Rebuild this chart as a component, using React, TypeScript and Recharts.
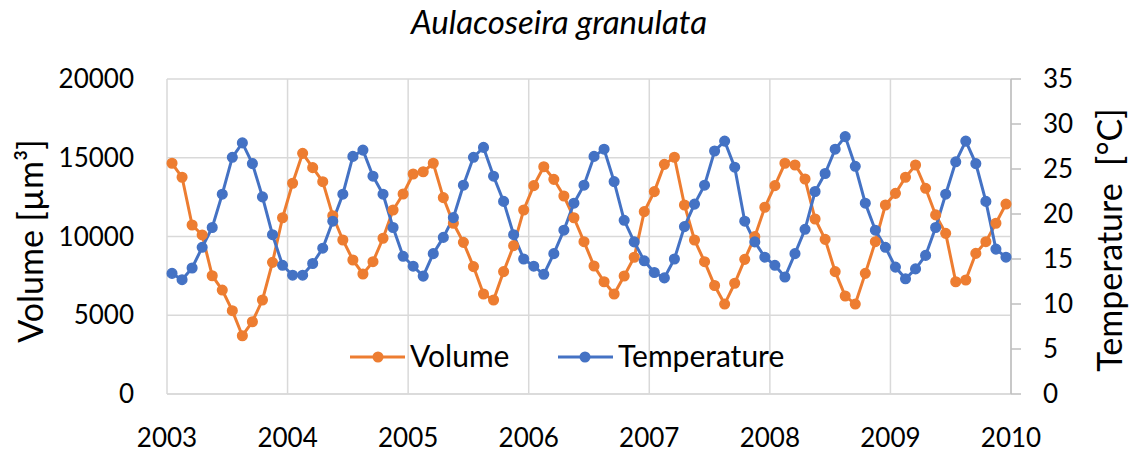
import React from "react";
import { LineChart, Line, XAxis, YAxis, CartesianGrid } from "recharts";

// monthly samples, Jan 2003 .. Dec 2009
const YEARS = [2003, 2004, 2005, 2006, 2007, 2008, 2009, 2010];
const VOLUME_TICKS = [0, 5000, 10000, 15000, 20000];
const TEMP_TICKS = [0, 5, 10, 15, 20, 25, 30, 35];

const VOLUME = [
  14650, 13760, 10730, 10100, 7510, 6600, 5290, 3700, 4590, 5970, 8360, 11190,
  13380, 15280, 14370, 13480, 11320, 9780, 8510, 7620, 8400, 9890, 11680, 12700,
  13970, 14110, 14650, 12470, 10840, 9630, 8090, 6350, 5970, 7770, 9420, 11680,
  13230, 14430, 13630, 12570, 11190, 9670, 8130, 7130, 6350, 7490, 8680, 11580,
  12850, 14580, 15030, 12000, 9780, 8400, 6890, 5710, 7030, 8550, 9990, 11860,
  13230, 14650, 14540, 13650, 11110, 9820, 7770, 6220, 5710, 7660, 9670, 12000,
  12740, 13760, 14540, 13060, 11370, 10200, 7130, 7240, 8930, 9670, 10840, 12060,
];

const TEMPERATURE = [
  13.4, 12.7, 14.0, 16.3, 18.5, 22.2, 26.3, 27.9, 25.6, 21.9, 17.7, 14.3,
  13.2, 13.2, 14.5, 16.2, 19.2, 22.2, 26.4, 27.1, 24.2, 22.2, 18.5, 15.3,
  14.2, 13.1, 15.6, 17.4, 19.6, 23.2, 26.3, 27.4, 24.2, 21.4, 17.7, 15.0,
  14.2, 13.3, 15.6, 18.2, 21.2, 23.2, 26.4, 27.2, 23.6, 19.3, 16.9, 14.8,
  13.5, 12.9, 15.0, 18.6, 21.1, 23.2, 27.0, 28.1, 25.2, 19.2, 16.9, 15.2,
  14.3, 13.0, 15.6, 18.3, 22.5, 24.5, 27.2, 28.6, 25.3, 21.2, 18.2, 16.3,
  14.1, 12.8, 13.9, 15.4, 18.5, 22.2, 25.8, 28.1, 25.6, 21.4, 16.1, 15.2,
];

const ORANGE = "#ED7D31";
const BLUE = "#4472C4";
const FONT = "Lato, 'Open Sans', sans-serif";

const rows = VOLUME.map((v, i) => ({
  t: YEARS[0] + (i + 0.5) / 12,
  volume: v,
  temperature: TEMPERATURE[i],
}));

const XTick = (props: any) => (
  <text x={props.x} y={447} textAnchor="middle" fontSize={26} fill="#000" fontFamily={FONT}>
    {props.payload.value}
  </text>
);

const LeftTick = (props: any) => (
  <text x={134} y={props.y + 9} textAnchor="end" fontSize={26} fill="#000" fontFamily={FONT}>
    {props.payload.value}
  </text>
);

const RightTick = (props: any) => (
  <text x={1043} y={props.y + 9} textAnchor="start" fontSize={26} fill="#000" fontFamily={FONT}>
    {props.payload.value}
  </text>
);

export default function App() {
  return (
    <div style={{ position: "absolute", left: 0, top: 0, width: 1134, height: 462, background: "#fff", fontFamily: FONT }}>
      <svg width={1134} height={60} style={{ position: "absolute", left: 0, top: 0 }}>
        <text x={559} y={34} textAnchor="middle" fontSize={33} fontStyle="italic" fontFamily={FONT} fill="#000">
          Aulacoseira granulata
        </text>
      </svg>
      <LineChart width={1134} height={462} data={rows} margin={{ top: 79, right: 0, bottom: 0, left: 0 }}>
        <CartesianGrid yAxisId="left" stroke="#D9D9D9" strokeWidth={1.5} />
        <XAxis
          dataKey="t"
          type="number"
          domain={[2003, 2010]}
          ticks={YEARS}
          height={68}
          tickLine={false}
          axisLine={{ stroke: "#D9D9D9", strokeWidth: 1.5 }}
          tick={XTick}
        />
        <YAxis
          yAxisId="left"
          domain={[0, 20000]}
          ticks={VOLUME_TICKS}
          width={167}
          axisLine={false}
          tickLine={false}
          tick={LeftTick}
          label={{
            content: () => (
              <text
                x={29}
                y={241}
                transform="rotate(-90 29 241)"
                textAnchor="middle"
                dominantBaseline="central"
                fontSize={34}
                fontFamily={FONT}
                fill="#000"
              >
                Volume [µm³]
              </text>
            ),
          }}
        />
        <YAxis
          yAxisId="right"
          orientation="right"
          domain={[0, 35]}
          ticks={TEMP_TICKS}
          width={123}
          axisLine={{ stroke: "#BFBFBF", strokeWidth: 1.5 }}
          tickLine={{ stroke: "#BFBFBF", strokeWidth: 1.5 }}
          tickSize={10}
          tick={RightTick}
          label={{
            content: () => (
              <text
                x={1108}
                y={240}
                transform="rotate(-90 1108 240)"
                textAnchor="middle"
                dominantBaseline="central"
                fontSize={34}
                fontFamily={FONT}
                fill="#000"
                style={{ whiteSpace: "pre" }}
              >
                {"Temperature  [°C]"}
              </text>
            ),
          }}
        />
        <Line
          yAxisId="left"
          type="linear"
          dataKey="volume"
          name="Volume"
          stroke={ORANGE}
          strokeWidth={3}
          dot={{ r: 4.8, fill: ORANGE, stroke: ORANGE, strokeWidth: 1.5 }}
          isAnimationActive={false}
        />
        <Line
          yAxisId="right"
          type="linear"
          dataKey="temperature"
          name="Temperature"
          stroke={BLUE}
          strokeWidth={3}
          dot={{ r: 4.8, fill: BLUE, stroke: BLUE, strokeWidth: 1.5 }}
          isAnimationActive={false}
        />
      </LineChart>
      {/* legend sits inside the plot area, like the original */}
      <svg width={470} height={44} style={{ position: "absolute", left: 340, top: 335 }}>
        <line x1={10} x2={65} y1={22} y2={22} stroke={ORANGE} strokeWidth={3} />
        <circle cx={38} cy={22} r={5.5} fill={ORANGE} />
        <text x={70} y={32} fontSize={30} fontFamily={FONT} fill="#000">Volume</text>
        <line x1={218} x2={273} y1={22} y2={22} stroke={BLUE} strokeWidth={3} />
        <circle cx={245} cy={22} r={5.5} fill={BLUE} />
        <text x={278} y={32} fontSize={30} fontFamily={FONT} fill="#000">Temperature</text>
      </svg>
    </div>
  );
}
